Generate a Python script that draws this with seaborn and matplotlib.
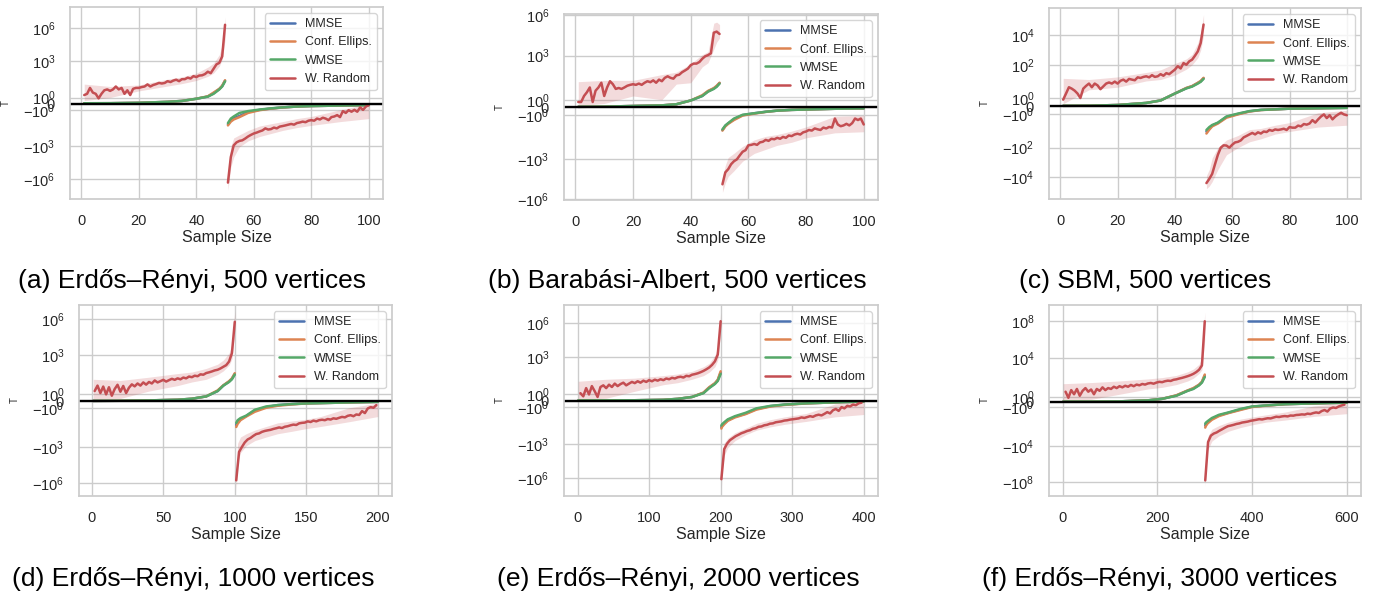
import numpy as np
import pandas as pd
import seaborn as sns
import matplotlib.pyplot as plt

sns.set_theme(style="whitegrid")
plt.rcParams["font.family"] = ["Liberation Sans", "DejaVu Sans"]

# Leyenda y colores
METHODS = ["MMSE", "Conf. Ellips.", "WMSE", "W. Random"]
COLORS = sns.color_palette("deep", 4)

# ------------------------------------------------------------------ (a) ER 500
a_red_pos = [1.4, 1.6, 4.1, 1.8, 1.6, 0.86, 1.6, 2.5, 3.0, 2.2,
             3.0, 5.5, 3.0, 4.1, 1.6, 2.5, 1.4, 3.4, 4.1, 4.1,
             4.9, 5.5, 8.5, 5.5, 7.5, 9.0, 11.5, 10.2, 11.5, 16.6,
             13.8, 18.8, 22.5, 16.6, 25, 25, 34.5, 28.6, 47, 39,
             53, 56, 72, 118, 87, 216, 540, 740, 2800, 2e6]
a_red_neg = [-2e6, -1e4, -890, -470, -350, -310, -215, -140, -100, -75,
             -62, -49, -40, -26, -33, -30, -22, -26, -18, -16,
             -14, -12, -10.4, -12, -8.6, -7.6, -6.4, -7.2, -5.3, -4.7,
             -5.3, -3.4, -4.1, -2.85, -3.4, -4.7, -2.5, -2.2, -1.85, -2.5,
             -1.2, -1.5, -1.05, -1.3, -1.0, -1.3, -0.6, -1.0, -0.46, -0.23]
a_knots_pos = [1, 10, 20, 30, 35, 40, 44, 46, 48, 49, 50]
a_knots_neg = [51, 52, 53, 55, 58, 62, 66, 70, 75, 80, 90, 100]
a_lo_pos = [0.5, 1.0, 2.2, 6, 10, 19, 45, 90, 370, 1500, 9e4]
a_hi_pos = [9, 5.5, 7.5, 25, 40, 87, 300, 700, 4000, 3e4, 1e7]
a_lo_neg = [-1e7, -8e4, -1e4, -1200, -350, -140, -75, -40, -22, -14, -6.4, -3.4]
a_hi_neg = [-2e5, -1100, -190, -100, -40, -16, -10, -6.4, -3.4, -2.2, -1.0, -0.05]
a_mmse_pos = [0.07, 0.08, 0.14, 0.3, 0.45, 0.8, 1.15, 1.7, 3.2, 6.0, 18]
a_ce_pos = [0.07, 0.08, 0.14, 0.3, 0.45, 0.8, 1.2, 1.8, 3.4, 6.5, 20]
a_wmse_pos = [0.07, 0.08, 0.14, 0.3, 0.45, 0.8, 1.15, 1.6, 3.0, 5.5, 16]
a_mmse_neg = [-11, -5, -3.2, -2.0, -1.35, -1.0, -0.78, -0.6, -0.46, -0.38, -0.3, -0.23]
a_ce_neg = [-14, -6.4, -4.1, -2.5, -1.5, -1.05, -0.8, -0.62, -0.46, -0.38, -0.3, -0.23]
a_wmse_neg = [-8.6, -3.4, -2.2, -1.5, -1.2, -0.95, -0.75, -0.6, -0.46, -0.38, -0.3, -0.23]

# ------------------------------------------------------------------ (b) BA 500
b_red_pos = [0.7, 0.7, 1.5, 2.0, 4.5, 0.7, 2.6, 4.5, 10, 1.5,
             4.5, 13, 7.8, 3.5, 4.1, 3.5, 4.5, 6.0, 7.0, 7.8,
             7.0, 8.7, 7.0, 10, 13, 11, 15, 10, 17, 13,
             23, 30, 23, 20, 35, 39, 60, 80, 110, 200,
             260, 260, 340, 590, 900, 1100, 1500, 5e4, 6e4, 4e4]
b_red_neg = [-7.6e4, -1e4, -5800, -2500, -1500, -1100, -560, -300, -230, -100,
             -93, -80, -93, -61, -55, -40, -47, -33, -36, -28,
             -33, -24, -28, -19, -21, -16, -14, -16, -11, -9.6,
             -7.4, -8.2, -5.7, -6.6, -7.4, -4.9, -5.7, -4.4, -4.9, -1.5,
             -2.9, -3.9, -3.4, -2.6, -3.4, -2.3, -1.5, -1.7, -1.5, -2.9]
b_knots_pos = [1, 10, 20, 30, 35, 40, 44, 46, 48, 49, 50]
b_knots_neg = [51, 52, 53, 55, 58, 62, 66, 70, 75, 80, 90, 100]
b_lo_pos = [0.2, 0.5, 1.5, 1.0, 8, 10, 150, 300, 3000, 1e4, 2e4]
b_hi_pos = [12, 15, 15, 40, 60, 250, 1200, 2000, 2.5e5, 3e5, 2e5]
b_lo_neg = [-3e5, -6e4, -2e4, -7600, -1500, -400, -200, -100, -60, -28, -12, -10]
b_hi_neg = [-2.3e4, -3000, -800, -390, -120, -40, -22, -16, -9, -4.4, -1.2, -1.1]
b_mmse_pos = [0.06, 0.08, 0.17, 0.25, 0.4, 0.9, 1.5, 2.3, 3.8, 5.5, 9.5]
b_ce_pos = [0.06, 0.08, 0.17, 0.25, 0.4, 0.9, 1.6, 2.5, 4.0, 6.0, 10]
b_wmse_pos = [0.06, 0.08, 0.17, 0.25, 0.4, 0.9, 1.5, 2.2, 3.5, 5.0, 8.6]
b_mmse_neg = [-7.5, -3.7, -2.4, -1.6, -1.05, -0.8, -0.6, -0.45, -0.35, -0.3, -0.2, -0.15]
b_ce_neg = [-8.2, -4.0, -2.6, -1.7, -1.1, -0.85, -0.62, -0.45, -0.35, -0.3, -0.2, -0.15]
b_wmse_neg = [-6.7, -3.4, -2.3, -1.5, -1.0, -0.8, -0.6, -0.45, -0.35, -0.3, -0.2, -0.15]

# ------------------------------------------------------------------ (c) SBM 500
c_red_pos = [0.8, 1.55, 3.0, 2.4, 1.9, 1.55, 1.0, 2.4, 3.7, 5.3,
             3.0, 5.3, 4.0, 2.2, 3.4, 5.3, 6.3, 5.3, 7.2, 5.3,
             8.2, 9.8, 7.2, 11, 9.8, 8.9, 14, 12.7, 15, 16.5,
             14, 19.7, 15, 16.5, 23, 18, 27, 23, 33, 47,
             80, 56, 130, 100, 170, 220, 410, 810, 3000, 5.3e4]
c_red_neg = [-2.5e4, -1.3e4, -6000, -1300, -300, -100, -69, -72, -100, -63,
             -44, -40, -32, -20, -16, -12.6, -10, -12.6, -9.1, -11,
             -8.0, -8.7, -6.3, -7.2, -5.8, -6.3, -5.8, -5.2, -6.3, -4.0,
             -4.4, -4.4, -3.2, -3.6, -2.5, -2.75, -2.3, -1.7, -2.0, -1.6,
             -1.25, -1.0, -1.45, -1.1, -1.6, -1.25, -1.0, -0.8, -1.0, -1.1]
c_knots_pos = [1, 10, 20, 30, 35, 40, 44, 46, 48, 49, 50]
c_knots_neg = [51, 52, 53, 55, 58, 62, 66, 70, 75, 80, 90, 100]
c_lo_pos = [0.3, 2, 3, 8, 10, 20, 50, 100, 300, 1000, 1e4]
c_hi_pos = [12, 10, 15, 30, 45, 120, 250, 500, 3000, 1.5e4, 2.5e5]
c_lo_neg = [-6e4, -4e4, -2e4, -3000, -300, -100, -40, -25, -12, -8, -4, -3]
c_hi_neg = [-8e3, -3000, -500, -100, -30, -15, -6, -5, -3, -2, -0.8, -0.5]
c_mmse_pos = [0.05, 0.06, 0.15, 0.4, 0.7, 1.55, 2.6, 3.5, 5.8, 7.5, 12]
c_ce_pos = [0.05, 0.06, 0.15, 0.4, 0.7, 1.55, 2.7, 3.6, 6.0, 8.0, 13]
c_wmse_pos = [0.05, 0.06, 0.15, 0.4, 0.7, 1.55, 2.5, 3.3, 5.3, 7.0, 11]
c_mmse_neg = [-8, -5, -3.2, -2.1, -1.3, -0.95, -0.62, -0.45, -0.38, -0.3, -0.25, -0.2]
c_ce_neg = [-11, -6, -3.6, -2.3, -1.4, -1.0, -0.65, -0.47, -0.38, -0.3, -0.25, -0.2]
c_wmse_neg = [-6.3, -4, -2.9, -2.0, -1.25, -0.9, -0.6, -0.45, -0.38, -0.3, -0.25, -0.2]

# ------------------------------------------------------------------ (d) ER 1000 (cada 2)
d_red_pos = [1.5, 3.0, 1.2, 2.5, 1.0, 2.2, 0.8, 1.8, 3.5, 1.4,
             2.8, 1.2, 2.0, 3.8, 2.6, 4.5, 3.0, 5.5, 3.6, 6.0,
             4.5, 8.0, 5.5, 7.0, 9.0, 6.5, 8.5, 11, 9.0, 12,
             10, 14, 12, 17, 15, 20, 18, 26, 24, 33,
             38, 45, 55, 62, 80, 110, 150, 300, 1500, 6e5]
d_red_neg = [-6e5, -2600, -1000, -420, -240, -180, -120, -85, -75, -56,
             -47, -42, -38, -32, -28, -24, -27, -21, -19, -16,
             -14, -15, -11, -10, -9.5, -7.5, -8.5, -6.5, -7.5, -6.0,
             -5.5, -6.0, -4.8, -5.3, -4.2, -4.6, -3.8, -3.2, -3.5, -2.6,
             -2.3, -2.8, -2.0, -2.2, -1.5, -1.8, -1.1, -0.9, -1.0, -0.6]
d_knots_pos = [1, 20, 40, 60, 70, 80, 88, 92, 96, 98, 100]
d_knots_neg = [101, 102, 104, 108, 114, 122, 130, 140, 150, 160, 180, 200]
d_lo_pos = [0.3, 0.4, 1.5, 3, 6, 10, 25, 50, 150, 500, 1e5]
d_hi_pos = [10, 8, 15, 30, 40, 80, 180, 400, 1500, 8000, 5e6]
d_lo_neg = [-5e6, -2e4, -3000, -800, -300, -150, -80, -50, -30, -20, -8, -3]
d_hi_neg = [-1e5, -500, -150, -80, -40, -20, -10, -7, -5, -3, -1, -0.3]
d_mmse_pos = [0.03, 0.05, 0.1, 0.2, 0.35, 0.7, 1.5, 3.0, 6.5, 11, 28]
d_ce_pos = [0.03, 0.05, 0.1, 0.2, 0.35, 0.7, 1.6, 3.2, 7.0, 12, 32]
d_wmse_pos = [0.03, 0.05, 0.1, 0.2, 0.35, 0.7, 1.5, 3.0, 6.0, 10, 25]
d_mmse_neg = [-15, -8, -5, -2.7, -1.4, -0.9, -0.6, -0.45, -0.35, -0.3, -0.2, -0.12]
d_ce_neg = [-22, -12, -6, -3, -1.6, -1.0, -0.7, -0.5, -0.35, -0.3, -0.2, -0.12]
d_wmse_neg = [-10, -6, -4, -2.5, -1.3, -0.8, -0.6, -0.45, -0.35, -0.3, -0.2, -0.12]

# ------------------------------------------------------------------ (e) ER 2000 (cada 4)
e_red_pos = [1.2, 0.7, 2.0, 1.0, 3.0, 1.5, 0.6, 2.5, 3.5, 2.0,
             4.0, 2.5, 5.0, 3.0, 4.5, 6.0, 3.5, 5.0, 7.0, 5.5,
             8.0, 6.0, 9.0, 7.0, 10, 8.0, 11, 9.0, 12, 10,
             14, 12, 16, 14, 18, 20, 17, 24, 22, 30,
             34, 40, 50, 65, 90, 130, 220, 450, 1800, 1.5e6]
e_red_neg = [-1.2e6, -2700, -900, -450, -300, -200, -150, -110, -90, -70,
             -60, -45, -40, -30, -28, -22, -20, -16, -15, -12,
             -11, -10, -8.5, -8.0, -7.0, -6.5, -6.0, -5.5, -4.5, -5.0,
             -4.2, -3.5, -4.0, -3.0, -2.6, -3.0, -2.2, -1.8, -2.0, -1.5,
             -1.3, -1.6, -1.0, -1.2, -0.8, -0.9, -0.6, -0.7, -0.4, -0.3]
e_knots_pos = [1, 40, 80, 120, 140, 160, 176, 184, 192, 196, 200]
e_knots_neg = [201, 202, 205, 210, 220, 235, 250, 270, 290, 320, 360, 400]
e_lo_pos = [0.2, 0.4, 1.5, 4, 6, 12, 25, 50, 150, 600, 2e5]
e_hi_pos = [8, 12, 15, 25, 35, 60, 150, 300, 1500, 8000, 8e6]
e_lo_neg = [-1e7, -3e5, -1e4, -2000, -500, -150, -60, -30, -18, -10, -4, -2.5]
e_hi_neg = [-1e5, -1e4, -800, -300, -100, -40, -15, -7, -4, -2, -0.5, -0.1]
e_mmse_pos = [0.05, 0.06, 0.08, 0.15, 0.3, 0.6, 1.25, 2.2, 5.0, 10, 45]
e_ce_pos = [0.05, 0.06, 0.08, 0.15, 0.3, 0.6, 1.3, 2.4, 5.5, 11, 60]
e_wmse_pos = [0.05, 0.06, 0.08, 0.15, 0.3, 0.6, 1.2, 2.0, 4.6, 8.5, 35]
e_mmse_neg = [-32, -24, -15, -8, -4, -2.1, -1.3, -0.85, -0.6, -0.4, -0.25, -0.12]
e_ce_neg = [-43, -30, -18, -9, -4.5, -2.3, -1.4, -0.9, -0.65, -0.42, -0.25, -0.12]
e_wmse_neg = [-23, -18, -12, -6.6, -3.5, -1.9, -1.2, -0.8, -0.6, -0.4, -0.25, -0.12]

# ------------------------------------------------------------------ (f) ER 3000 (cada 6)
f_red_pos = [2.0, 0.8, 3.0, 1.5, 4.0, 1.2, 2.5, 5.0, 2.0, 3.5,
             1.5, 4.0, 2.5, 6.0, 3.0, 5.0, 4.0, 7.0, 5.0, 8.0,
             6.0, 9.0, 7.0, 11, 8.0, 12, 10, 14, 12, 16,
             18, 15, 20, 24, 22, 28, 32, 30, 40, 45,
             55, 65, 80, 100, 130, 180, 280, 500, 1500, 1e8]
f_red_neg = [-6e7, -3800, -750, -450, -340, -220, -150, -100, -70, -60,
             -50, -40, -35, -28, -25, -22, -18, -16, -14, -12,
             -13, -11, -9.5, -10, -8.0, -6.5, -7.0, -6.0, -5.5, -6.0,
             -4.8, -5.0, -4.2, -4.0, -3.6, -3.8, -3.0, -3.3, -2.6, -2.2,
             -2.5, -1.8, -1.6, -1.9, -1.3, -1.1, -1.2, -0.9, -0.7, -0.55]
f_knots_pos = [1, 60, 120, 180, 210, 240, 264, 276, 288, 294, 300]
f_knots_neg = [301, 302, 306, 315, 330, 350, 375, 400, 430, 470, 530, 600]
f_lo_pos = [0.3, 0.5, 1.5, 4, 6, 12, 30, 60, 200, 500, 1e6]
f_hi_pos = [15, 20, 30, 50, 70, 120, 300, 600, 2000, 1e4, 1e9]
f_lo_neg = [-3e8, -1e7, -3e4, -3000, -800, -250, -100, -50, -25, -15, -6, -3]
f_hi_neg = [-1e6, -1e5, -1000, -150, -60, -25, -12, -7, -4, -2, -0.8, -0.2]
f_mmse_pos = [0.05, 0.06, 0.1, 0.3, 0.6, 1.25, 2.6, 4.5, 11, 22, 110]
f_ce_pos = [0.05, 0.06, 0.1, 0.3, 0.6, 1.3, 2.8, 5.0, 12, 25, 150]
f_wmse_pos = [0.05, 0.06, 0.1, 0.3, 0.6, 1.2, 2.5, 4.0, 10, 20, 80]
f_mmse_neg = [-60, -45, -27, -11, -4.7, -2.4, -1.5, -0.95, -0.7, -0.45, -0.3, -0.15]
f_ce_neg = [-100, -70, -35, -14, -5.5, -2.6, -1.6, -1.0, -0.75, -0.45, -0.3, -0.15]
f_wmse_neg = [-38, -30, -20, -9, -4, -2.2, -1.4, -0.9, -0.7, -0.45, -0.3, -0.15]

CAPTIONS = ["(a) Erdős–Rényi, 500 vertices", "(b) Barabási-Albert, 500 vertices",
            "(c) SBM, 500 vertices", "(d) Erdős–Rényi, 1000 vertices",
            "(e) Erdős–Rényi, 2000 vertices", "(f) Erdős–Rényi, 3000 vertices"]
N_MAX = [100, 100, 100, 200, 400, 600]
RED_STEP = [1, 1, 1, 2, 4, 6]
X_TICKS = [[0, 20, 40, 60, 80, 100]] * 3 + [[0, 50, 100, 150, 200],
                                            [0, 100, 200, 300, 400],
                                            [0, 200, 400, 600]]
Y_TICKS = [[-1e6, -1e3, -1, 0, 1, 1e3, 1e6], [-1e6, -1e3, -1, 0, 1, 1e3, 1e6],
           [-1e4, -1e2, -1, 0, 1, 1e2, 1e4], [-1e6, -1e3, -1, 0, 1, 1e3, 1e6],
           [-1e6, -1e3, -1, 0, 1, 1e3, 1e6], [-1e8, -1e4, -1, 0, 1, 1e4, 1e8]]
Y_LIMS = [(-6e7, 8e7), (-1.1e6, 1.2e6), (-3e5, 7e5),
          (-1.2e7, 1.5e7), (-3.6e7, 4e7), (-3e9, 6e9)]

# posicion de cada eje en pixeles (izq, arriba, der, abajo) y del pie de figura
W, H = 1375, 595
AX_BOX = [(70, 7, 383, 199), (564, 14, 878, 200), (1049, 8, 1361, 199),
          (79, 305, 392, 496), (564, 305, 878, 496), (1049, 305, 1361, 496)]
CAP_POS = [(192, 281), (677, 281), (1145, 281), (193, 579), (678, 579), (1160, 579)]

panels = []
for key in "abcdef":
    g = globals()
    panels.append({k: g[f"{key}_{k}"] for k in
                   ["red_pos", "red_neg", "knots_pos", "knots_neg", "lo_pos", "hi_pos",
                    "lo_neg", "hi_neg", "mmse_pos", "ce_pos", "wmse_pos",
                    "mmse_neg", "ce_neg", "wmse_neg"]})

fig = plt.figure(figsize=(W / 100, H / 100), dpi=100)

for i, p in enumerate(panels):
    l, t, r, b = AX_BOX[i]
    ax = fig.add_axes([l / W, 1 - b / H, (r - l) / W, (b - t) / H])
    n, step = N_MAX[i], RED_STEP[i]
    half = n // 2
    x_pos = list(range(step, step * len(p["red_pos"]) + 1, step))
    x_neg = list(range(half + 1, half + 1 + step * len(p["red_neg"]), step))

    # banda de W. Random
    ax.fill_between(p["knots_pos"], p["lo_pos"], p["hi_pos"], color=COLORS[3], alpha=0.2, lw=0)
    ax.fill_between(p["knots_neg"], p["lo_neg"], p["hi_neg"], color=COLORS[3], alpha=0.2, lw=0)

    series = [(p["mmse_pos"], p["mmse_neg"]), (p["ce_pos"], p["ce_neg"]),
              (p["wmse_pos"], p["wmse_neg"])]
    for j, (ypos, yneg) in enumerate(series):
        sns.lineplot(x=p["knots_pos"], y=ypos, ax=ax, color=COLORS[j], lw=1.8, label=METHODS[j])
        sns.lineplot(x=p["knots_neg"], y=yneg, ax=ax, color=COLORS[j], lw=1.8)
    sns.lineplot(x=x_pos, y=p["red_pos"], ax=ax, color=COLORS[3], lw=1.8, label=METHODS[3])
    sns.lineplot(x=x_neg, y=p["red_neg"], ax=ax, color=COLORS[3], lw=1.8)

    ax.axhline(0, color="black", lw=1.7, zorder=2.5)
    ax.set_yscale("symlog")
    ax.set_ylim(*Y_LIMS[i])
    ax.set_yticks(Y_TICKS[i])
    ax.set_xlim(1 - 0.05 * (n - 1), n + 0.05 * (n - 1))
    ax.set_xticks(X_TICKS[i])
    ax.minorticks_off()
    ax.tick_params(axis="both", labelsize=10.5, pad=4.5, colors=".15")
    ax.set_xlabel("Sample Size", fontsize=11.5, labelpad=2, color=".15")
    ax.set_ylabel("T", fontsize=7, color=".15")
    ax.yaxis.set_label_coords(-0.19, 0.5)
    for s in ax.spines.values():
        s.set_color(".8")
    ax.legend(loc="upper right", fontsize=9, frameon=True, edgecolor=".8")

    cx, cy = CAP_POS[i]
    fig.text(cx / W, 1 - cy / H, CAPTIONS[i], ha="center", va="center",
             fontsize=19, color="black")

fig.savefig("out.png", dpi=100)
